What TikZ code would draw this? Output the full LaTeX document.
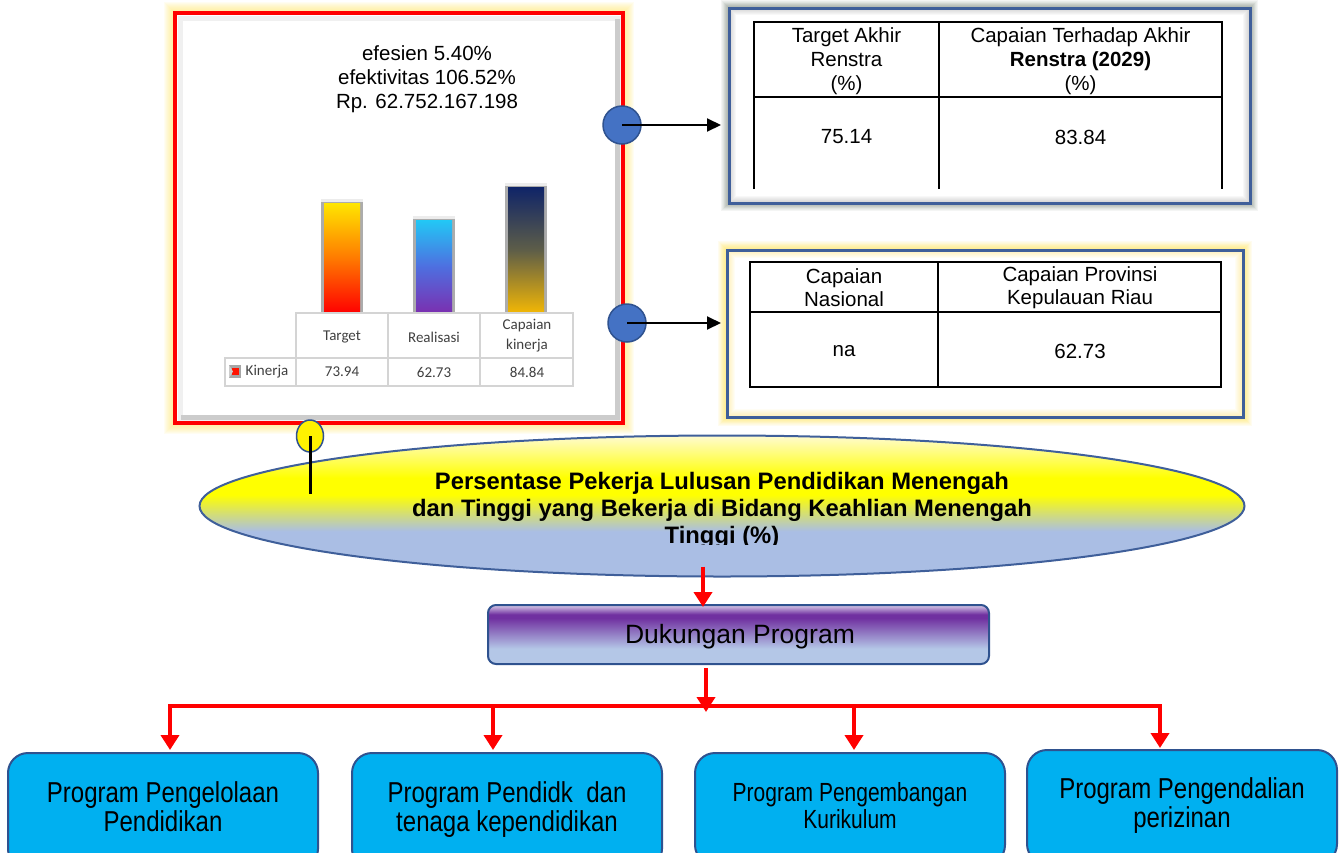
\documentclass[tikz,border=0pt]{standalone}
\usepackage{fontspec}
\setmainfont{Liberation Sans}
\newfontfamily\calib{Carlito}
\usetikzlibrary{shapes.geometric,arrows.meta,calc}
\definecolor{frblue}{HTML}{3F5F9A}
\definecolor{cblue}{HTML}{4472C4}
\definecolor{cbord}{HTML}{2F528F}
\definecolor{ellblue}{HTML}{AABEE4}
\definecolor{lightyel}{HTML}{FFFBD0}
\definecolor{purp}{HTML}{7030A0}
\definecolor{lavender}{HTML}{D8CCE8}
\definecolor{pblue}{HTML}{B4C7E7}
\definecolor{cyanbox}{HTML}{00B0F0}
\definecolor{gridgray}{HTML}{D4D4D4}
\definecolor{txtgray}{HTML}{404040}
\definecolor{glowyel}{HTML}{FFE66E}
\definecolor{glowgray}{HTML}{6E8070}
\definecolor{tgtop}{HTML}{FFE600}
\definecolor{tgmid}{HTML}{FF7A00}
\definecolor{rltop}{HTML}{22C8F5}
\definecolor{rlmid}{HTML}{4E6FE0}
\definecolor{rlbot}{HTML}{7B2FB0}
\definecolor{cptop}{HTML}{0F2468}
\definecolor{cpmid}{HTML}{5E5E48}
\definecolor{cpbot}{HTML}{F2B705}
\pgfdeclareverticalshading{ellshade}{100bp}{color(0bp)=(ellblue); color(25bp)=(ellblue); color(41bp)=(ellblue); color(54bp)=(yellow); color(60bp)=(yellow); color(75bp)=(lightyel); color(100bp)=(lightyel)}
\pgfdeclareverticalshading{dpshade}{100bp}{color(0bp)=(pblue); color(25bp)=(pblue); color(38bp)=(pblue); color(64bp)=(purp); color(67bp)=(purp); color(75bp)=(lavender); color(100bp)=(lavender)}
\newcommand\chartbar[5]{%
  \fill[gray!65] (#1,#2) rectangle ({#1+42},313);
  \fill[gray!15] (#1,#2) rectangle ({#1+42},{#2+3});
  \shade[top color=#3, bottom color=#5, middle color=#4] ({#1+3},{#2+4}) rectangle ({#1+39},313);
}
\newcommand\tallbox[2]{\scalebox{1}[#1]{\begin{tabular}{@{}c@{}}#2\end{tabular}}}
\tikzset{
  redarr/.style={draw=red, line width=4pt, -{Triangle[width=18pt,length=15pt]}},
  redline/.style={draw=red, line width=4pt},
  blkarr/.style={draw=black, line width=2pt, -{Triangle[width=13pt,length=14pt]}},
  bluedot/.style={circle, fill=cblue, draw=cbord, line width=1.5pt, minimum size=38pt, inner sep=0pt},
  pbox/.style={draw=cbord, line width=2pt, fill=cyanbox, rounded corners=20pt, minimum width=310pt, inner sep=0pt, align=center},
  tabtxt/.style={align=center, font=\fontsize{20.5}{24}\selectfont, inner sep=0pt},
  cht/.style={align=center, font=\calib\fontsize{15}{20}\selectfont, text=txtgray, inner sep=0pt},
}
\begin{document}
\begin{tikzpicture}[x=1pt,y=-1pt]
\useasboundingbox (0,0) rectangle (1344,852);
\clip (0,0) rectangle (1344,852);

% ---------- chart box ----------
\path node[minimum width=448pt, minimum height=410pt, inner sep=0pt, outer sep=0pt] (chart) at (399,218) {};
\foreach \w in {2,4,...,22}
  \draw[glowyel, line width=\w pt, opacity=0.09] (chart.north west) rectangle (chart.south east);
\draw[red, line width=4pt, fill=white] (chart.north west) rectangle (chart.south east);
\draw[gray!12, line width=5pt] ([shift={(5,5)}]chart.north west) rectangle ([shift={(-5,-5)}]chart.south east);
\draw[gray!40, line width=5pt] ([shift={(-6,6)}]chart.north east) -- ([shift={(-6,-6)}]chart.south east) -- ([shift={(6,-6)}]chart.south west);

\node[align=center, font=\fontsize{20.5}{24}\selectfont] (ctitle) at (427,79) {efesien 5.40\%\\efektivitas 106.52\%\\Rp. 62.752.167.198};

\chartbar{321}{199}{tgtop}{tgmid}{red}
\chartbar{413}{216}{rltop}{rlmid}{rlbot}
\chartbar{505}{183}{cptop}{cpmid}{cpbot}

\draw[gridgray, line width=1.5pt] (296,313) rectangle (573,386) (225,358) rectangle (296,386)
  (388,313) -- (388,386) (480,313) -- (480,386) (296,358) -- (573,358);
\node[cht] (hT) at (342,337) {Target};
\node[cht] (hR) at (434,337) {Realisasi};
\node[cht] (hC) at (527,336) {Capaian\\kinerja};
\node[cht] (vT) at (342,372) {73.94};
\node[cht] (vR) at (434,372) {62.73};
\node[cht] (vC) at (527,372) {84.84};
\node[cht] (kin) at (267,372) {Kinerja};
\fill[gray!70] (229,365) rectangle (241,378);
\fill[red!85!orange] (232,368) rectangle (239,375);
\fill[gray!40] (229,365) -- (233,371.5) -- (229,378) -- cycle;

% ---------- top right frame ----------
\path node[minimum width=521pt, minimum height=195pt, inner sep=0pt, outer sep=0pt] (f1) at (989.5,105.5) {};
\foreach \w in {2,4,...,16}
  \draw[glowgray, line width=\w pt, opacity=0.08] (f1.north west) rectangle (f1.south east);
\draw[fill=white, draw=none] (f1.north west) rectangle (f1.south east);
\foreach \w in {2,4,...,12}
  \draw[gray, line width=\w pt, opacity=0.05] ([shift={(1,1)}]f1.north west) rectangle ([shift={(-1,-1)}]f1.south east);
\draw[frblue, line width=3pt] (f1.north west) rectangle (f1.south east);
\draw[black, line width=1.2pt] (754,189) -- (754,22) -- (1222,22) -- (1222,189) (939,22) -- (939,189) (754,97) -- (1222,97);
\node[tabtxt] (t1a) at (846.5,61) {Target Akhir\\Renstra\\(\%)};
\node[tabtxt] (t1b) at (1080.5,61) {Capaian Terhadap Akhir\\\textbf{Renstra (2029)}\\(\%)};
\node[tabtxt] (t1c) at (846.5,137) {75.14};
\node[tabtxt] (t1d) at (1080.5,137) {83.84};

% ---------- second frame ----------
\path node[minimum width=516pt, minimum height=167pt, inner sep=0pt, outer sep=0pt] (f2) at (985,333.5) {};
\foreach \w in {2,4,...,18}
  \draw[glowyel, line width=\w pt, opacity=0.1] (f2.north west) rectangle (f2.south east);
\draw[fill=white, draw=none] (f2.north west) rectangle (f2.south east);
\foreach \w in {2,4,...,14}
  \draw[glowyel, line width=\w pt, opacity=0.07] ([shift={(1,1)}]f2.north west) rectangle ([shift={(-1,-1)}]f2.south east);
\draw[frblue, line width=3pt] (f2.north west) rectangle (f2.south east);
\draw[black, line width=1.2pt] (750,262) rectangle (1221,387) (938,262) -- (938,387) (750,312) -- (1221,312);
\node[tabtxt, font=\fontsize{20.5}{23}\selectfont] (t2a) at (844,288) {Capaian\\Nasional};
\node[tabtxt, font=\fontsize{20.5}{23}\selectfont] (t2b) at (1080,288) {Capaian Provinsi\\Kepulauan Riau};
\node[tabtxt] (t2c) at (844,351) {na};
\node[tabtxt] (t2d) at (1080,351) {62.73};

% ---------- blue dots + arrows ----------
\node[bluedot] (c1) at (622,125) {};
\node[bluedot] (c2) at (627,323) {};
\draw[blkarr] (c1.center) -- ($(f1.west |- c1.center)+(-8,0)$);
\draw[blkarr] (c2.center) -- ($(f2.west |- c2.center)+(-6,0)$);

% ---------- ellipse ----------
\node[ellipse, draw=frblue, line width=2pt, shade, shading=ellshade, minimum width=1045pt, minimum height=141pt, inner sep=0pt] (ell) at (722,506) {};
\begin{scope}
\clip (200,430) rectangle (1250,544);
\node[align=center, font=\bfseries\fontsize{23.8}{27}\selectfont, inner sep=0pt] (etext) at (722,510) {Persentase Pekerja Lulusan Pendidikan Menengah\\dan Tinggi yang Bekerja di Bidang Keahlian Menengah\\Tinggi (\%)};
\end{scope}

\node[ellipse, fill=yellow, draw=cbord, line width=1.5pt, minimum width=27pt, minimum height=32pt, inner sep=0pt] (yc) at (310,436) {};
\coordinate (ycend) at (310,494);
\draw[black, line width=3pt] (yc.center) -- (ycend);

% ---------- Dukungan Program ----------
\node[draw=cbord, line width=2pt, shade, shading=dpshade, rounded corners=8pt, minimum width=501pt, minimum height=59pt, inner sep=0pt] (dp) at (738.5,634.5) {};
\node[font=\fontsize{26.5}{30}\selectfont, inner sep=0pt] (dptext) at (740,637) {Dukungan Program};
\draw[redarr] ([shift={(-19,-11)}]ell.south) -- ([shift={(-35.5,3)}]dp.north);

% ---------- bottom boxes ----------
\node[pbox, minimum height=116pt] (b1) at (163,811) {\fontsize{24}{23.3}\selectfont\tallbox{1.2}{Program Pengelolaan\\Pendidikan}};
\node[pbox, minimum height=116pt] (b2) at (507,811) {\fontsize{24}{23.3}\selectfont\tallbox{1.2}{Program Pendidk\ \ dan\\tenaga kependidikan}};
\node[pbox, minimum height=112pt] (b3) at (850,809) {\fontsize{21}{20}\selectfont\tallbox{1.25}{Program Pengembangan\\Kurikulum}};
\node[pbox, minimum height=114pt] (b4) at (1182,807) {\fontsize{24}{23.3}\selectfont\tallbox{1.2}{Program Pengendalian\\perizinan}};

\coordinate (bus) at (706,706);
\coordinate (d1) at (170,706);
\coordinate (d2) at (493,706);
\coordinate (d3) at (854,706);
\coordinate (d4) at (1160,706);
\draw[redarr] ([shift={(-32.5,3)}]dp.south) -- ([shift={(0,6)}]bus);
\draw[redline] ($(d1)+(-2,0)$) -- ($(d4)+(2,0)$);
\draw[redarr] (d1) -- ($(d1 |- b1.north)+(0,-2)$);
\draw[redarr] (d2) -- ($(d2 |- b2.north)+(0,-2)$);
\draw[redarr] (d3) -- ($(d3 |- b3.north)+(0,-2)$);
\draw[redarr] (d4) -- ($(d4 |- b4.north)+(0,-1)$);
\end{tikzpicture}
\end{document}
